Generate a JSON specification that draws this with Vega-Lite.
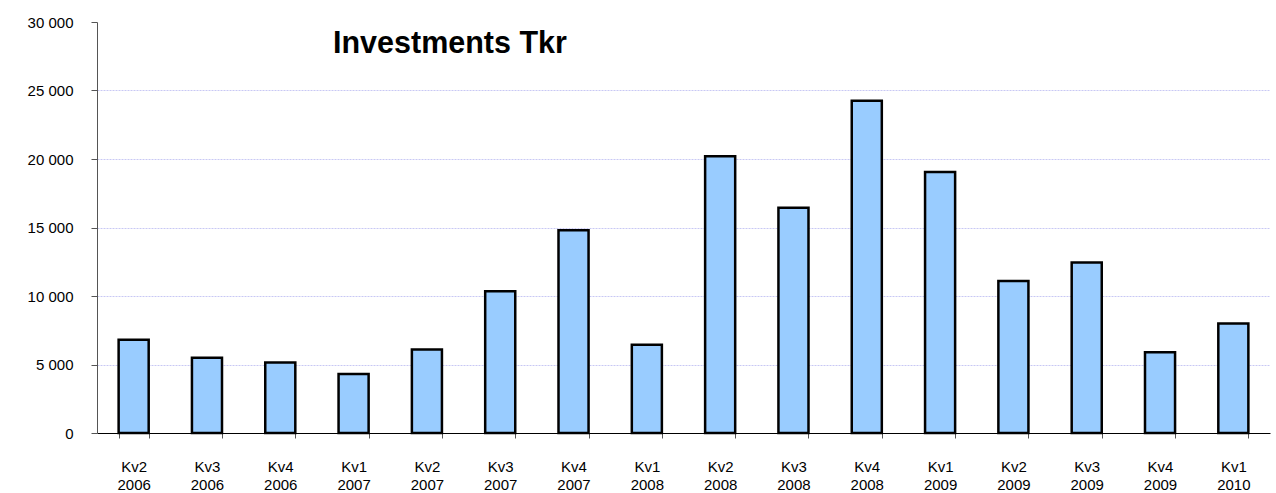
{
  "$schema": "https://vega.github.io/schema/vega-lite/v6.json",
  "autosize": "none",
  "width": 1173,
  "height": 411,
  "padding": {"left": 97, "top": 22, "right": 6, "bottom": 60},
  "background": "white",
  "config": {
    "view": {"stroke": null},
    "font": "Liberation Sans"
  },
  "title": {
    "text": "Investments Tkr",
    "anchor": "start",
    "frame": "group",
    "orient": "top",
    "baseline": "alphabetic",
    "font": "Liberation Sans",
    "fontSize": 30.5,
    "fontWeight": "bold",
    "color": "black",
    "dx": 236,
    "dy": 72
  },
  "data": {
    "values": [
      {"q": "Kv2 2006", "v": 6800},
      {"q": "Kv3 2006", "v": 5500},
      {"q": "Kv4 2006", "v": 5150},
      {"q": "Kv1 2007", "v": 4300},
      {"q": "Kv2 2007", "v": 6100},
      {"q": "Kv3 2007", "v": 10350},
      {"q": "Kv4 2007", "v": 14800},
      {"q": "Kv1 2008", "v": 6450},
      {"q": "Kv2 2008", "v": 20200},
      {"q": "Kv3 2008", "v": 16450},
      {"q": "Kv4 2008", "v": 24250},
      {"q": "Kv1 2009", "v": 19050},
      {"q": "Kv2 2009", "v": 11100},
      {"q": "Kv3 2009", "v": 12450},
      {"q": "Kv4 2009", "v": 5900},
      {"q": "Kv1 2010", "v": 8000}
    ]
  },
  "mark": {"type": "bar", "fill": "#99CCFF", "stroke": "black", "strokeWidth": 2.5},
  "encoding": {
    "x": {
      "field": "q",
      "type": "nominal",
      "sort": null,
      "scale": {"paddingInner": 0.59, "paddingOuter": 0.295},
      "axis": {
        "title": null,
        "labelAngle": 0,
        "labelExpr": "split(datum.label, ' ')",
        "labelFontSize": 15,
        "labelColor": "black",
        "labelLineHeight": 18,
        "labelBaseline": "top",
        "labelPadding": 21,
        "tickBand": "extent",
        "tickSize": 5,
        "tickColor": "#555555",
        "domainColor": "black",
        "domainWidth": 1,
        "grid": false
      }
    },
    "y": {
      "field": "v",
      "type": "quantitative",
      "scale": {"domain": [0, 30000], "nice": false},
      "axis": {
        "title": null,
        "values": [0, 5000, 10000, 15000, 20000, 25000, 30000],
        "labelExpr": "replace(format(datum.value, ','), ',', ' ')",
        "labelFontSize": 15,
        "labelColor": "black",
        "labelPadding": 18,
        "tickSize": 6,
        "tickColor": "#555555",
        "domainColor": "#555555",
        "grid": true,
        "gridColor": "#c8c8f4",
        "gridDash": [2, 1],
        "gridOpacity": {"condition": {"test": "datum.value >= 30000 || datum.value <= 0", "value": 0}, "value": 1}
      }
    }
  }
}
